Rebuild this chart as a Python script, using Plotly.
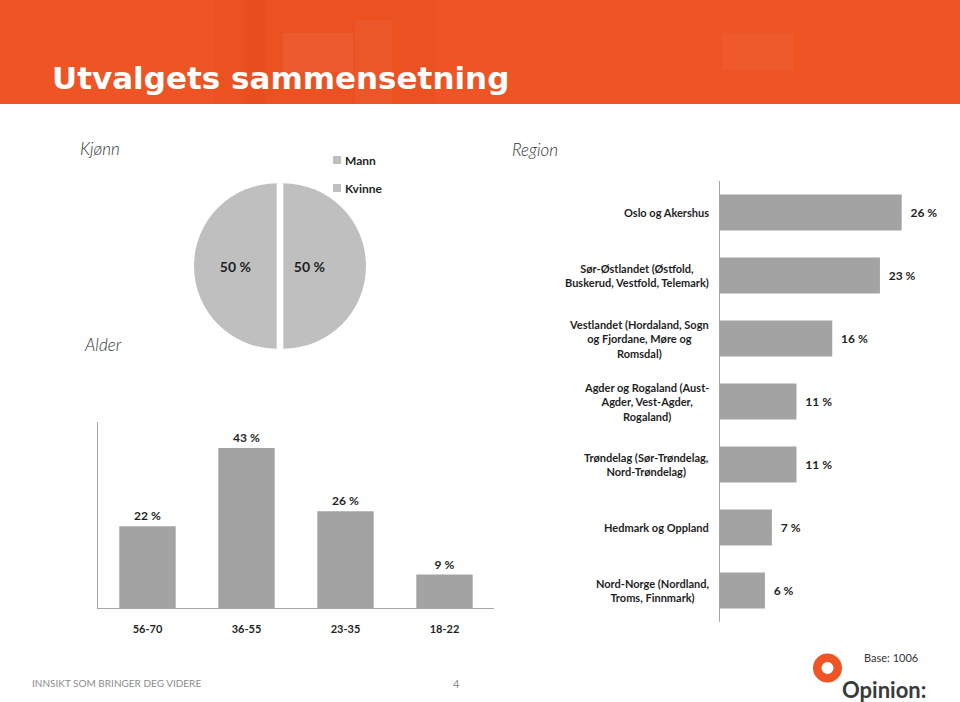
import plotly.graph_objects as go

# ---------------- data ----------------
gender_labels = ["Mann", "Kvinne"]
gender_values = [50, 50]

age_categories = ["56-70", "36-55", "23-35", "18-22"]
age_values = [22, 43, 26, 9]

region_categories = [
    "Oslo og Akershus",
    "Sør-Østlandet (Østfold,<br>Buskerud, Vestfold, Telemark)",
    "Vestlandet (Hordaland, Sogn<br>og Fjordane, Møre og<br>Romsdal)",
    "Agder og Rogaland (Aust-<br>Agder, Vest-Agder,<br>Rogaland)",
    "Trøndelag (Sør-Trøndelag,<br>Nord-Trøndelag)",
    "Hedmark og Oppland",
    "Nord-Norge (Nordland,<br>Troms, Finnmark)",
]
region_values = [25.9, 22.8, 16.0, 10.9, 10.9, 7.4, 6.4]

title_text = "Utvalgets sammensetning"
footer_left = "INNSIKT SOM BRINGER DEG VIDERE"
page_number = "4"
base_text = "Base: 1006"

# ---------------- style ----------------
W, H = 960, 702
ORANGE = "#EE5424"
PIE_GREY = "#BFBFBF"
BAR_GREY = "#A3A3A3"
AXIS_GREY = "#A6A6A6"
TXT = "#1F1F1F"
FONT = "Lato"
NBSP = "\u00a0"


def px(x):
    return x / W


def py(y):
    return 1 - y / H


fig = go.Figure()

# Pie (Kjønn) - right-half label sits a little closer to the centre in the reference
pie_text = [f"{gender_values[0]} %" + NBSP * 9, f"{gender_values[1]} %"]
fig.add_trace(go.Pie(
    labels=gender_labels,
    values=gender_values,
    text=pie_text,
    textinfo="text",
    textposition="inside",
    insidetextfont=dict(family=FONT, size=14, color=TXT, weight="bold"),
    marker=dict(colors=[PIE_GREY, PIE_GREY], line=dict(width=0)),
    direction="clockwise",
    rotation=0,
    sort=False,
    pull=[0.04, 0.04],
    domain=dict(x=[px(194), px(366)], y=[py(352), py(180)]),
    showlegend=False,
    hoverinfo="label+percent",
))

# Age bars (Alder)
fig.add_trace(go.Bar(
    x=age_categories,
    y=age_values,
    text=[f"{v} %" for v in age_values],
    textposition="outside",
    outsidetextfont=dict(family=FONT, size=12, color=TXT, weight="bold"),
    marker=dict(color=BAR_GREY, line=dict(width=0)),
    cliponaxis=False,
    xaxis="x", yaxis="y",
    showlegend=False,
))

# Region bars
fig.add_trace(go.Bar(
    x=region_values,
    y=region_categories,
    orientation="h",
    text=[f"{NBSP}{NBSP}{round(v)} %" for v in region_values],
    textposition="outside",
    outsidetextfont=dict(family=FONT, size=12, color=TXT, weight="bold"),
    marker=dict(color=BAR_GREY, line=dict(width=0)),
    cliponaxis=False,
    xaxis="x2", yaxis="y2",
    showlegend=False,
))

shapes = []
annotations = []

# Header band and subtle texture
shapes.append(dict(type="rect", xref="paper", yref="paper", x0=0, x1=1,
                   y0=py(104), y1=1, fillcolor=ORANGE, line=dict(width=0), layer="below"))
for (x0, y0, x1, y1, col) in [
    (215, 0, 435, 104, "rgba(200,40,0,0.07)"),
    (283, 33, 353, 72, "rgba(255,255,255,0.06)"),
    (355, 20, 392, 104, "rgba(255,255,255,0.04)"),
    (245, 0, 265, 104, "rgba(190,30,0,0.05)"),
    (722, 33, 793, 70, "rgba(255,255,255,0.035)"),
]:
    shapes.append(dict(type="rect", xref="paper", yref="paper", x0=px(x0), x1=px(x1),
                       y0=py(y1), y1=py(y0), fillcolor=col, line=dict(width=0), layer="below"))

annotations.append(dict(text=f"<b>{title_text}</b>", xref="paper", yref="paper",
                        x=px(50), y=py(78), xanchor="left", yanchor="middle", showarrow=False,
                        font=dict(family="DejaVu Sans", size=31, color="white")))

# Section titles
for label, x, y in [("Kjønn", 78, 148), ("Region", 510, 149), ("Alder", 82, 344)]:
    annotations.append(dict(text=label, xref="paper", yref="paper", x=px(x), y=py(y),
                            xanchor="left", yanchor="middle", showarrow=False,
                            font=dict(family=FONT, size=17, color="#333333", style="italic", weight=300)))

# Manual legend for the pie
for i, lab in enumerate(gender_labels):
    yc = 160 + 28 * i
    shapes.append(dict(type="rect", xref="paper", yref="paper", x0=px(333), x1=px(341),
                       y0=py(yc + 4), y1=py(yc - 4), fillcolor=PIE_GREY, line=dict(width=0)))
    annotations.append(dict(text=f"<b>{lab}</b>", xref="paper", yref="paper", x=px(343), y=py(yc),
                            xanchor="left", yanchor="middle", showarrow=False,
                            font=dict(family=FONT, size=12, color=TXT)))

# Region category labels (centered multi-line)
for cat in region_categories:
    annotations.append(dict(text=f"<b>{cat}</b>", xref="x2", yref="y2", x=0, y=cat,
                            xanchor="right", yanchor="middle", xshift=-9, align="center",
                            showarrow=False,
                            font=dict(family=FONT, size=11, color=TXT)))

# Footer
annotations.append(dict(text=footer_left, xref="paper", yref="paper", x=px(30), y=py(683),
                        xanchor="left", yanchor="middle", showarrow=False,
                        font=dict(family=FONT, size=10, color="#8C8C8C")))
annotations.append(dict(text=page_number, xref="paper", yref="paper", x=px(456), y=py(683),
                        xanchor="center", yanchor="middle", showarrow=False,
                        font=dict(family=FONT, size=11, color="#8C8C8C")))
annotations.append(dict(text=base_text, xref="paper", yref="paper", x=px(862), y=py(657),
                        xanchor="left", yanchor="middle", showarrow=False,
                        font=dict(family=FONT, size=11, color="#333333")))
annotations.append(dict(text="<b>Opinion:</b>", xref="paper", yref="paper", x=px(840), y=py(689),
                        xanchor="left", yanchor="middle", showarrow=False,
                        font=dict(family=FONT, size=22, color="#3A3A3A")))
# logo ring
r = 10.25
shapes.append(dict(type="circle", xref="paper", yref="paper",
                   x0=px(827.5 - r), x1=px(827.5 + r), y0=py(668 + r), y1=py(668 - r),
                   line=dict(color=ORANGE, width=8.5), fillcolor="rgba(0,0,0,0)"))

fig.update_layout(
    width=W, height=H,
    margin=dict(l=0, r=0, t=0, b=0),
    paper_bgcolor="white", plot_bgcolor="white",
    font=dict(family=FONT, color=TXT),
    bargap=0.43,
    shapes=shapes,
    annotations=annotations,
    xaxis=dict(domain=[px(98), px(494)], showline=True, linecolor=AXIS_GREY, linewidth=1,
               ticks="", showgrid=False, zeroline=False,
               tickfont=dict(family=FONT, size=11, color=TXT, weight="bold"),
               ticklabelstandoff=11, fixedrange=True),
    yaxis=dict(domain=[py(608), py(422)], range=[0, 50], showline=True, linecolor=AXIS_GREY,
               linewidth=1, showticklabels=False, ticks="", showgrid=False, zeroline=False,
               fixedrange=True),
    xaxis2=dict(domain=[px(720), px(955)], range=[0, 33.5], anchor="y2", showline=False,
                showticklabels=False, ticks="", showgrid=False, zeroline=False, fixedrange=True),
    yaxis2=dict(domain=[py(622), py(181)], anchor="x2", autorange="reversed",
                showline=True, linecolor=AXIS_GREY, linewidth=1, showticklabels=False,
                ticks="", showgrid=False, zeroline=False, fixedrange=True),
)

fig.write_html(
    "out.html",
    config={"displayModeBar": False},
    post_script="document.body.style.margin='0';document.body.style.overflow='hidden';",
)
